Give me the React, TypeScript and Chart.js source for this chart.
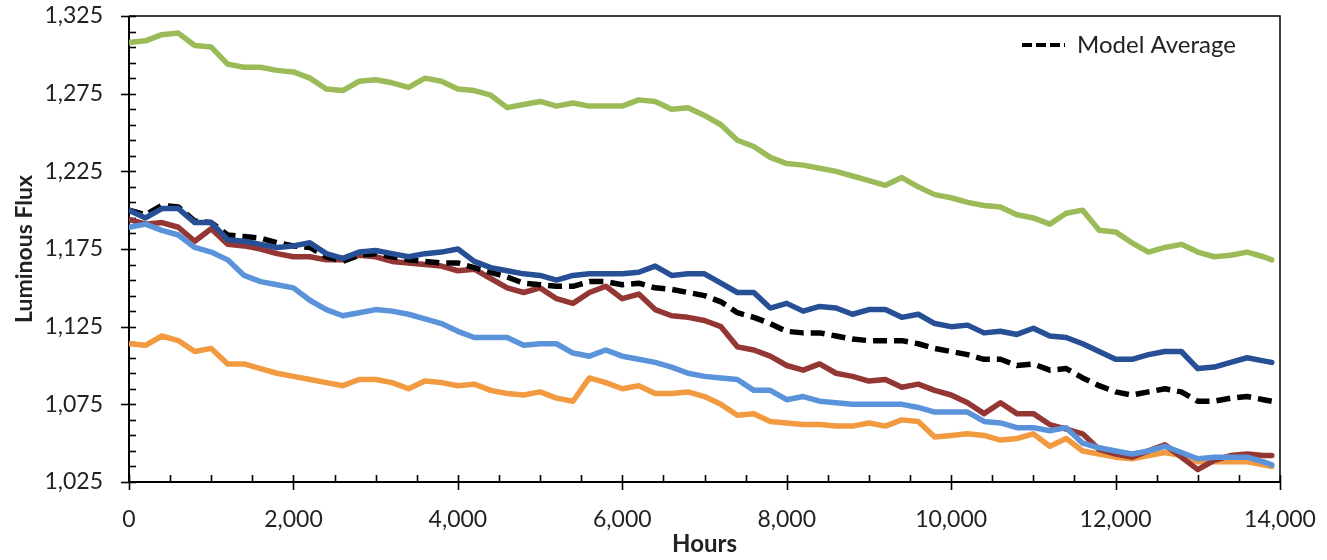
import { useEffect, useRef } from "react";
import { Chart, registerables } from "chart.js";

Chart.register(...registerables);

// ---- data ----
const hours = [
  0, 200, 400, 600, 800, 1000, 1200, 1400, 1600, 1800, 2000,
  2200, 2400, 2600, 2800, 3000, 3200, 3400, 3600, 3800, 4000,
  4200, 4400, 4600, 4800, 5000, 5200, 5400, 5600, 5800, 6000,
  6200, 6400, 6600, 6800, 7000, 7200, 7400, 7600, 7800, 8000,
  8200, 8400, 8600, 8800, 9000, 9200, 9400, 9600, 9800, 10000,
  10200, 10400, 10600, 10800, 11000, 11200, 11400, 11600, 11800, 12000,
  12200, 12400, 12600, 12800, 13000, 13200, 13400, 13600, 13800, 13900,
];

const xTickValues = [0, 2000, 4000, 6000, 8000, 10000, 12000, 14000];
const yTickValues = [1025, 1075, 1125, 1175, 1225, 1275, 1325];

const lampGreen = [
  1308, 1309, 1313, 1314, 1306, 1305, 1294, 1292, 1292, 1290, 1289,
  1285, 1278, 1277, 1283, 1284, 1282, 1279, 1285, 1283, 1278,
  1277, 1274, 1266, 1268, 1270, 1267, 1269, 1267, 1267, 1267,
  1271, 1270, 1265, 1266, 1261, 1255, 1245, 1241, 1234, 1230,
  1229, 1227, 1225, 1222, 1219, 1216, 1221, 1215, 1210, 1208,
  1205, 1203, 1202, 1197, 1195, 1191, 1198, 1200, 1187, 1186,
  1179, 1173, 1176, 1178, 1173, 1170, 1171, 1173, 1170, 1168,
];

const lampNavy = [
  1200, 1195, 1201, 1201, 1192, 1192, 1181, 1180, 1178, 1176, 1177,
  1179, 1172, 1169, 1173, 1174, 1172, 1170, 1172, 1173, 1175,
  1167, 1163, 1161, 1159, 1158, 1155, 1158, 1159, 1159, 1159,
  1160, 1164, 1158, 1159, 1159, 1153, 1147, 1147, 1137, 1140,
  1135, 1138, 1137, 1133, 1136, 1136, 1131, 1133, 1127, 1125,
  1126, 1121, 1122, 1120, 1124, 1119, 1118, 1114, 1109, 1104,
  1104, 1107, 1109, 1109, 1098, 1099, 1102, 1105, 1103, 1102,
];

const modelAverage = [
  1200, 1197, 1203, 1202, 1193, 1192, 1184, 1183, 1182, 1179, 1177,
  1176, 1170, 1167, 1171, 1172, 1170, 1168, 1167, 1166, 1166,
  1163, 1160, 1157, 1153, 1152, 1151, 1151, 1154, 1154, 1152,
  1153, 1150, 1149, 1147, 1145, 1141, 1134, 1131, 1127, 1122,
  1121, 1121, 1119, 1117, 1116, 1116, 1116, 1114, 1111, 1109,
  1107, 1104, 1104, 1100, 1101, 1097, 1098, 1092, 1087, 1083,
  1081, 1083, 1085, 1083, 1077, 1077, 1079, 1080, 1078, 1077,
];

const lampRed = [
  1194, 1191, 1192, 1189, 1180, 1188, 1178, 1177, 1175, 1172, 1170,
  1170, 1168, 1168, 1171, 1170, 1167, 1166, 1165, 1164, 1161,
  1162, 1156, 1150, 1147, 1150, 1143, 1140, 1147, 1151, 1143,
  1146, 1136, 1132, 1131, 1129, 1125, 1112, 1110, 1106, 1100,
  1097, 1101, 1095, 1093, 1090, 1091, 1086, 1088, 1084, 1081,
  1076, 1069, 1076, 1069, 1069, 1062, 1059, 1056, 1046, 1043,
  1041, 1045, 1049, 1041, 1033, 1039, 1042, 1043, 1042, 1042,
];

const lampLightBlue = [
  1189, 1191, 1187, 1184, 1176, 1173, 1168, 1158, 1154, 1152, 1150,
  1142, 1136, 1132, 1134, 1136, 1135, 1133, 1130, 1127, 1122,
  1118, 1118, 1118, 1113, 1114, 1114, 1108, 1106, 1110, 1106,
  1104, 1102, 1099, 1095, 1093, 1092, 1091, 1084, 1084, 1078,
  1080, 1077, 1076, 1075, 1075, 1075, 1075, 1073, 1070, 1070,
  1070, 1064, 1063, 1060, 1060, 1058, 1060, 1050, 1047, 1045,
  1043, 1045, 1048, 1044, 1040, 1041, 1041, 1041, 1038, 1036,
];

const lampOrange = [
  1114, 1113, 1119, 1116, 1109, 1111, 1101, 1101, 1098, 1095, 1093,
  1091, 1089, 1087, 1091, 1091, 1089, 1085, 1090, 1089, 1087,
  1088, 1084, 1082, 1081, 1083, 1079, 1077, 1092, 1089, 1085,
  1087, 1082, 1082, 1083, 1080, 1075, 1068, 1069, 1064, 1063,
  1062, 1062, 1061, 1061, 1063, 1061, 1065, 1064, 1054, 1055,
  1056, 1055, 1052, 1053, 1056, 1048, 1053, 1045, 1043, 1041,
  1040, 1042, 1044, 1042, 1038, 1038, 1038, 1038, 1036, 1035,
];

const FONT = "Lato, 'Open Sans', sans-serif";
const TEXT = "#222222";

const toPoints = (vals: number[]) => hours.map((h, i) => ({ x: h, y: vals[i] }));

const frameTicks = {
  id: "frameTicks",
  beforeDatasetsDraw(chart: any) {
    const { ctx, chartArea: a, scales } = chart;
    const x = scales.x;
    const y = scales.y;
    ctx.save();
    ctx.strokeStyle = "#000";
    ctx.lineWidth = 1.5;
    ctx.beginPath();
    ctx.moveTo(a.left, a.top);
    ctx.lineTo(a.right, a.top);
    ctx.lineTo(a.right, a.bottom);
    ctx.stroke();
    ctx.lineWidth = 2;
    ctx.beginPath();
    ctx.moveTo(a.left, a.top);
    ctx.lineTo(a.left, a.bottom);
    ctx.lineTo(a.right, a.bottom);
    ctx.stroke();
    ctx.lineWidth = 1.6;
    for (let v = y.min; v <= y.max + 0.001; v += 10) {
      const py = Math.round(y.getPixelForValue(v)) + 0.5;
      const major = Math.abs((v - y.min) % 50) < 0.001;
      ctx.beginPath();
      ctx.moveTo(a.left - (major ? 8 : 0), py);
      ctx.lineTo(a.left + 7, py);
      ctx.stroke();
    }
    for (let v = x.min; v <= x.max + 0.001; v += 500) {
      const px = Math.round(x.getPixelForValue(v)) + 0.5;
      const major = Math.abs(v % 2000) < 0.001;
      ctx.beginPath();
      ctx.moveTo(px, a.bottom - 7);
      ctx.lineTo(px, a.bottom + (major ? 8 : 0));
      ctx.stroke();
    }
    ctx.restore();
  },
};

const insideLegend = {
  id: "insideLegend",
  afterDraw(chart: any) {
    const { ctx, chartArea: a } = chart;
    const ds = chart.data.datasets.find((d: any) => d.showInLegend);
    if (!ds) return;
    const yy = a.top + 29;
    const x0 = a.right - 258;
    ctx.save();
    ctx.strokeStyle = ds.borderColor;
    ctx.lineWidth = 4;
    ctx.setLineDash([10, 4]);
    ctx.beginPath();
    ctx.moveTo(x0, yy);
    ctx.lineTo(x0 + 43, yy);
    ctx.stroke();
    ctx.setLineDash([]);
    ctx.fillStyle = TEXT;
    ctx.font = `24px ${FONT}`;
    ctx.textBaseline = "middle";
    ctx.textAlign = "left";
    ctx.fillText(ds.label, x0 + 55, yy);
    ctx.restore();
  },
};

export default function App() {
  const ref = useRef<HTMLCanvasElement | null>(null);

  useEffect(() => {
    if (!ref.current) return;
    const line = (label: string, vals: number[], color: string, extra: any = {}) => ({
      label,
      data: toPoints(vals),
      borderColor: color,
      backgroundColor: color,
      borderWidth: 5.5,
      pointRadius: 0,
      tension: 0,
      borderJoinStyle: "round",
      borderCapStyle: "round",
      fill: false,
      ...extra,
    });
    const chart = new Chart(ref.current, {
      type: "line",
      data: {
        datasets: [
          line("Lamp E", lampLightBlue, "#5B93DB"),
          line("Lamp B", lampNavy, "#274F96"),
          line("Model Average", modelAverage, "#000000", {
            borderDash: [14, 7],
            borderCapStyle: "butt",
            showInLegend: true,
          }),
          line("Lamp C", lampRed, "#943634"),
          line("Lamp D", lampOrange, "#F29A40"),
          line("Lamp A", lampGreen, "#9BBB59"),
        ] as any,
      },
      options: {
        animation: false,
        responsive: false,
        maintainAspectRatio: false,
        layout: { padding: { left: 0, right: 47, top: 16, bottom: 0 } },
        plugins: {
          legend: { display: false },
          tooltip: { enabled: false },
        },
        scales: {
          x: {
            type: "linear",
            min: 0,
            max: 14000,
            afterFit: (s: any) => {
              s.height = 78;
              s.paddingLeft = 0;
              s.paddingRight = 0;
            },
            afterBuildTicks: (s: any) => {
              s.ticks = xTickValues.map((v) => ({ value: v }));
            },
            grid: { display: false, drawTicks: false },
            border: { display: false },
            ticks: {
              padding: 24,
              color: TEXT,
              font: { family: FONT, size: 23 },
              maxRotation: 0,
              autoSkip: false,
              callback: (v: any) => Number(v).toLocaleString("en-US"),
            },
            title: {
              display: true,
              text: "Hours",
              color: TEXT,
              font: { family: FONT, size: 24, weight: "bold" },
              padding: { top: 0, bottom: 1 },
            },
          },
          y: {
            type: "linear",
            min: 1025,
            max: 1325,
            afterFit: (s: any) => {
              s.width = 129;
              s.paddingTop = 0;
              s.paddingBottom = 0;
            },
            afterBuildTicks: (s: any) => {
              s.ticks = yTickValues.map((v) => ({ value: v }));
            },
            grid: { display: false, drawTicks: false },
            border: { display: false },
            ticks: {
              padding: 26,
              color: TEXT,
              font: { family: FONT, size: 23 },
              autoSkip: false,
              callback: (v: any) => Number(v).toLocaleString("en-US"),
            },
            title: {
              display: true,
              text: "Luminous Flux",
              color: TEXT,
              font: { family: FONT, size: 23, weight: "bold" },
              padding: { top: 11, bottom: 0 },
            },
          },
        },
      },
      plugins: [frameTicks, insideLegend],
    });
    return () => chart.destroy();
  }, []);

  return (
    <div style={{ position: "fixed", left: 0, top: 0, width: 1327, height: 560, background: "#fff" }}>
      <canvas ref={ref} width={1327} height={560} style={{ display: "block" }} />
    </div>
  );
}
